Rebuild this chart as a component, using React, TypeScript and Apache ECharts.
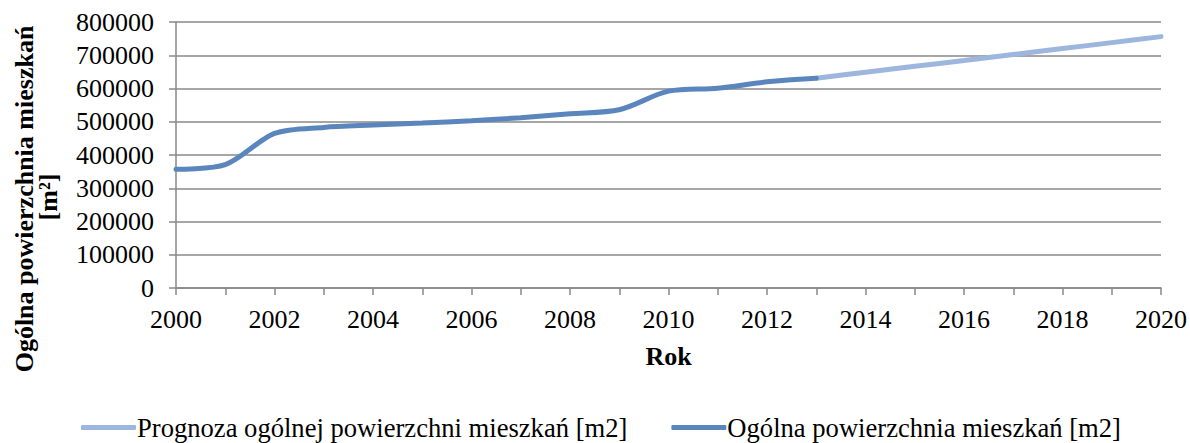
import React, { useEffect, useRef } from "react";
import * as echarts from "echarts";

const actualYears = [2000, 2001, 2002, 2003, 2004, 2005, 2006, 2007, 2008, 2009, 2010, 2011, 2012, 2013];
const actualValues = [357000, 371000, 465000, 483000, 490000, 496000, 503000, 512000, 524000, 536000, 592000, 601000, 620000, 631000];
const forecastYears = [2013, 2014, 2015, 2016, 2017, 2018, 2019, 2020];
const forecastValues = [631000, 649000, 667000, 684000, 702000, 720000, 738000, 756000];
const seriesNames = ["Prognoza ogólnej powierzchni mieszkań [m2]", "Ogólna powierzchnia mieszkań [m2]"];
const xTitle = "Rok";
const yTitleLines = ["Ogólna powierzchnia mieszkań", "[m²]"];

const FONT = "'Liberation Serif', 'Times New Roman', serif";
const GRAY = "#888888";

export default function App() {
  const ref = useRef<HTMLDivElement>(null);
  useEffect(() => {
    if (!ref.current) return;
    const chart = echarts.init(ref.current, null, { renderer: "svg" });
    chart.setOption({
      animation: false,
      backgroundColor: "#ffffff",
      textStyle: { fontFamily: FONT },
      grid: { left: 176, right: 27, top: 22, bottom: 155, containLabel: false },
      legend: {
        bottom: -3,
        left: 76,
        itemWidth: 55,
        itemHeight: 5,
        itemGap: 44,
        icon: "roundRect",
        textStyle: { fontFamily: FONT, fontSize: 26.6, color: "#000", padding: [0, 0, 0, -4] },
        data: seriesNames,
      },
      xAxis: {
        type: "value",
        min: 2000,
        max: 2020,
        interval: 1,
        name: xTitle,
        nameLocation: "middle",
        nameGap: 55,
        nameTextStyle: { fontFamily: FONT, fontSize: 26, fontWeight: "bold", color: "#000" },
        axisLine: { show: true, lineStyle: { color: GRAY, width: 1.5 } },
        axisTick: { show: true, length: 7, lineStyle: { color: GRAY, width: 1.5 } },
        axisLabel: {
          fontFamily: FONT,
          fontSize: 26,
          color: "#000",
          margin: 18,
          formatter: (v: number) => (v % 2 === 0 ? String(v) : ""),
        },
        splitLine: { show: false },
      },
      yAxis: {
        type: "value",
        min: 0,
        max: 800000,
        interval: 100000,
        axisLine: { show: true, lineStyle: { color: GRAY, width: 1.5 } },
        axisTick: { show: true, length: 7, lineStyle: { color: GRAY, width: 1.5 } },
        axisLabel: {
          fontFamily: FONT,
          fontSize: 26,
          color: "#000",
          margin: 22,
          formatter: (v: number) => String(v),
        },
        splitLine: { show: true, lineStyle: { color: GRAY, width: 1.5 } },
      },
      graphic: [
        {
          type: "text",
          x: 24,
          y: 199,
          rotation: Math.PI / 2,
          style: {
            text: yTitleLines[0],
            fontFamily: FONT,
            fontSize: 26,
            fontWeight: "bold",
            fill: "#000",
            align: "center",
            verticalAlign: "middle",
          },
        },
        {
          type: "text",
          x: 48,
          y: 197,
          rotation: Math.PI / 2,
          style: {
            text: yTitleLines[1],
            fontFamily: FONT,
            fontSize: 26,
            fontWeight: "bold",
            fill: "#000",
            align: "center",
            verticalAlign: "middle",
          },
        },
      ],
      series: [
        {
          name: seriesNames[0],
          type: "line",
          data: forecastYears.map((y, i) => [y, forecastValues[i]]),
          smooth: 0.3,
          showSymbol: false,
          symbol: "none",
          lineStyle: { color: "#9db6dd", width: 5, cap: "round" },
          itemStyle: { color: "#9db6dd" },
          z: 2,
        },
        {
          name: seriesNames[1],
          type: "line",
          data: actualYears.map((y, i) => [y, actualValues[i]]),
          smooth: 0.3,
          showSymbol: false,
          symbol: "none",
          lineStyle: { color: "#5b85bd", width: 5, cap: "round" },
          itemStyle: { color: "#5b85bd" },
          z: 3,
        },
      ],
    });
    return () => chart.dispose();
  }, []);
  return <div ref={ref} style={{ width: 1190, height: 443, position: "absolute", left: 0, top: 0 }} />;
}
